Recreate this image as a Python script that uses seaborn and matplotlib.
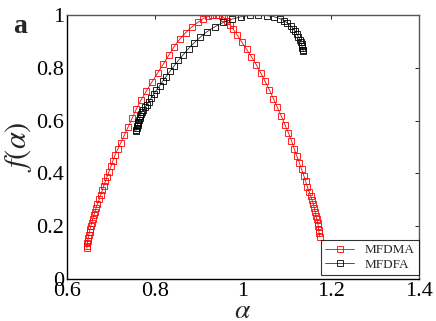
import numpy as np
import pandas as pd
import seaborn as sns
import matplotlib.pyplot as plt

# multifractal spectra
mfdma_alpha = [0.645, 0.645, 0.646, 0.647, 0.648, 0.649, 0.651, 0.652, 0.654, 0.656,
               0.658, 0.661, 0.663, 0.666, 0.669, 0.673, 0.676, 0.680, 0.683, 0.687,
               0.691, 0.695, 0.700, 0.704, 0.709, 0.715, 0.722, 0.730, 0.739, 0.748,
               0.757, 0.768, 0.780, 0.793, 0.806, 0.819, 0.831, 0.843, 0.856, 0.870,
               0.884, 0.898, 0.910, 0.921, 0.930, 0.938, 0.945, 0.951, 0.957, 0.963,
               0.970, 0.978, 0.987, 0.997, 1.008, 1.019, 1.030, 1.040, 1.050, 1.060,
               1.069, 1.078, 1.087, 1.095, 1.103, 1.110, 1.116, 1.122, 1.128, 1.133,
               1.138, 1.142, 1.146, 1.150, 1.154, 1.157, 1.160, 1.162, 1.164, 1.166,
               1.168, 1.170, 1.171, 1.172, 1.173, 1.174]
mfdma_f = [0.116, 0.125, 0.135, 0.145, 0.157, 0.167, 0.178, 0.189, 0.201, 0.213,
           0.227, 0.241, 0.255, 0.270, 0.285, 0.302, 0.318, 0.336, 0.352, 0.370,
           0.388, 0.407, 0.428, 0.448, 0.470, 0.491, 0.516, 0.545, 0.577, 0.610,
           0.643, 0.678, 0.712, 0.747, 0.781, 0.815, 0.848, 0.880, 0.909, 0.934,
           0.956, 0.973, 0.987, 0.995, 0.999, 1.000, 0.999, 0.995, 0.988, 0.978,
           0.964, 0.946, 0.924, 0.898, 0.870, 0.842, 0.812, 0.781, 0.749, 0.716,
           0.683, 0.650, 0.617, 0.585, 0.554, 0.524, 0.494, 0.466, 0.440, 0.415,
           0.392, 0.370, 0.350, 0.331, 0.314, 0.298, 0.283, 0.268, 0.254, 0.240,
           0.226, 0.212, 0.199, 0.186, 0.173, 0.160]

mfdfa_alpha = [0.756, 0.757, 0.758, 0.759, 0.760, 0.761, 0.762, 0.763, 0.765, 0.766,
               0.768, 0.770, 0.773, 0.777, 0.781, 0.786, 0.791, 0.797, 0.803, 0.810,
               0.817, 0.825, 0.834, 0.843, 0.853, 0.864, 0.876, 0.889, 0.903, 0.918,
               0.936, 0.955, 0.975, 0.996, 1.016, 1.035, 1.054, 1.070, 1.083, 1.093,
               1.101, 1.108, 1.114, 1.119, 1.123, 1.126, 1.129, 1.131, 1.133, 1.134,
               1.135, 1.136, 1.137]
mfdfa_f = [0.560, 0.566, 0.572, 0.578, 0.584, 0.590, 0.596, 0.603, 0.610, 0.618,
           0.626, 0.633, 0.641, 0.650, 0.659, 0.672, 0.685, 0.700, 0.716, 0.732,
           0.749, 0.767, 0.787, 0.807, 0.828, 0.850, 0.873, 0.895, 0.917, 0.937,
           0.956, 0.972, 0.985, 0.994, 0.999, 1.000, 0.998, 0.994, 0.987, 0.979,
           0.970, 0.960, 0.949, 0.938, 0.927, 0.917, 0.907, 0.898, 0.889, 0.881,
           0.874, 0.868, 0.862]

xticks = [0.6, 0.8, 1.0, 1.2, 1.4]
xticklabels = ['0.6', '0.8', '1', '1.2', '1.4']
yticks = [0, 0.2, 0.4, 0.6, 0.8, 1.0]
yticklabels = ['0', '0.2', '0.4', '0.6', '0.8', '1']

sns.set_style('white')
plt.rcParams['font.family'] = ['Liberation Serif', 'DejaVu Serif']
plt.rcParams['mathtext.fontset'] = 'stix'

fig = plt.figure(figsize=(4.36, 3.21), dpi=100)
ax = fig.add_axes([0.154, 0.131, 0.807, 0.822])

sns.lineplot(x=mfdma_alpha, y=mfdma_f, sort=False, estimator=None, ax=ax,
             color='red', lw=0.6, marker='s', ms=4, mfc='none', mec='red',
             mew=0.6, label='MFDMA')
sns.lineplot(x=mfdfa_alpha, y=mfdfa_f, sort=False, estimator=None, ax=ax,
             color='#333333', lw=0.6, marker='s', ms=4, mfc='none', mec='black',
             mew=0.6, label='MFDFA')

ax.set_xlim(0.6, 1.4)
ax.set_ylim(0, 1)
ax.set_xticks(xticks)
ax.set_xticklabels(xticklabels)
ax.set_yticks(yticks)
ax.set_yticklabels(yticklabels)
ax.tick_params(direction='in', length=3, width=0.6, labelsize=16,
               top=True, right=True, colors='black', pad=2)
for s in ['left', 'bottom']:
    ax.spines[s].set_color('black')
for s in ['top', 'right']:
    ax.spines[s].set_color('#555555')
for s in ax.spines.values():
    s.set_linewidth(1.0)

ax.set_xlabel(r'$\alpha$', fontsize=20, labelpad=0)
ax.xaxis.set_label_coords(0.5, -0.075)
ax.xaxis.label.set_va('top')
ax.set_ylabel(r'$f(\alpha)$', fontsize=22, labelpad=2)

leg = ax.legend(loc='lower right', bbox_to_anchor=(1.0, 0.015), fontsize=9.5,
                frameon=True, fancybox=False, borderaxespad=0,
                handlelength=2.2, borderpad=0.3, labelspacing=0.2)
leg.get_frame().set_edgecolor('black')
leg.get_frame().set_linewidth(0.8)

fig.text(0.03, 0.897, 'a', fontsize=20, fontweight='bold')

fig.savefig('out.png', dpi=100)
